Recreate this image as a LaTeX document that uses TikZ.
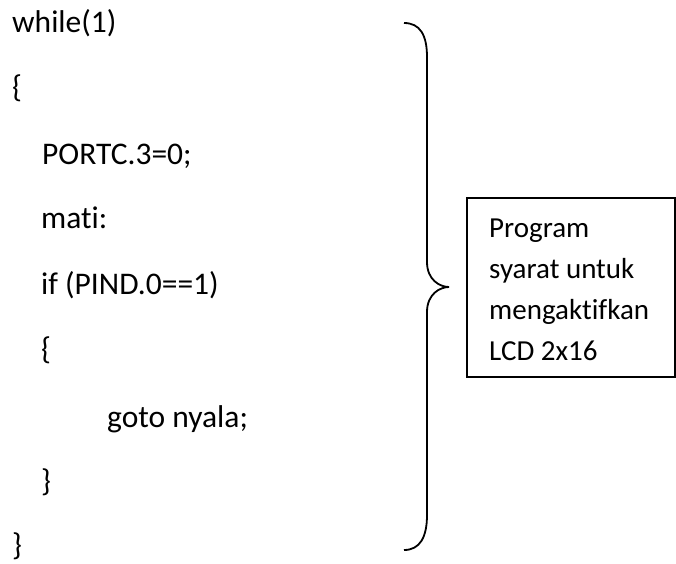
\documentclass[tikz,border=0pt]{standalone}
\usepackage{fontspec}
\setmainfont{Carlito}[Ligatures=NoCommon]
\begin{document}
\begin{tikzpicture}[x=1pt,y=-1pt,
  codeline/.style={anchor=base west,inner sep=0pt,font=\fontsize{31.5}{38}\selectfont},
  noteline/.style={anchor=base west,inner sep=0pt,font=\fontsize{29}{35}\selectfont},
  frame/.style={draw,line width=1.5pt},
  bracket/.style={draw,line width=1.8pt}]
\useasboundingbox (0,0) rectangle (676,563);
% code listing
\node[codeline] (l1) at (12,32)    {while(1)};
\node[codeline] (l2) at (12,97)    {\{};
\node[codeline] (l3) at (42,164)   {PORTC.3=0;};
\node[codeline] (l4) at (41,228)   {mati:};
\node[codeline] (l5) at (41,294)   {if (PIND.0==1)};
\node[codeline] (l6) at (41,359)   {\{};
\node[codeline] (l7) at (107,427)  {goto nyala;};
\node[codeline] (l8) at (41,491)   {\}};
\node[codeline] (l9) at (12,555)   {\}};
% curly bracket grouping the listing
\path[bracket] (404,23) .. controls (420,23) and (427,35) .. (427,57)
  -- (427,262) .. controls (427,280) and (440,287) .. (449,287)
  .. controls (440,287) and (427,294) .. (427,312)
  -- (427,515) .. controls (427,537) and (420,550) .. (404,550);
% note box
\draw[frame] (467,198) rectangle (675,377);
\node[noteline] (n1) at (489,237) {Program};
\node[noteline] (n2) at (489,278) {syarat untuk};
\node[noteline] (n3) at (489,319) {mengaktifkan};
\node[noteline] (n4) at (489,360) {LCD 2x16};
\end{tikzpicture}
\end{document}
